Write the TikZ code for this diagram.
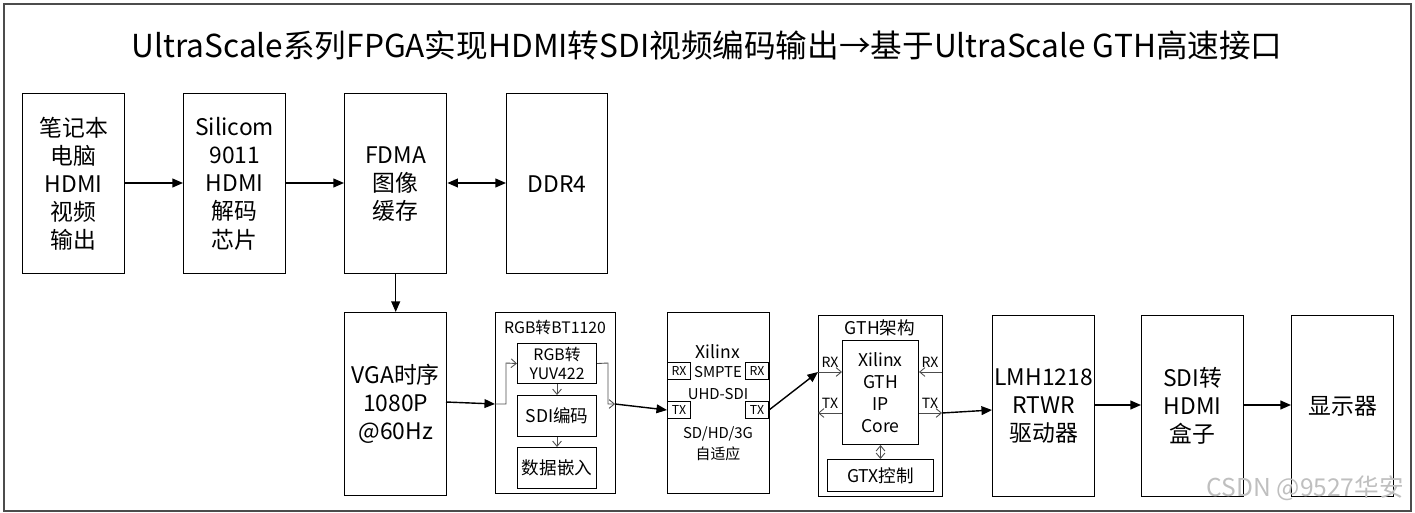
\documentclass[tikz,border=0pt]{standalone}
\usepackage{fontspec}
\setmainfont{Noto Sans CJK SC}
\usetikzlibrary{arrows.meta}
\begin{document}
\begin{tikzpicture}[x=0.02cm,y=-0.02cm,
  box/.style={draw,line width=0.8pt,align=center,font=\fontsize{13}{16}\selectfont,inner sep=0},
  sbox/.style={draw,line width=0.6pt,align=center,font=\fontsize{10}{11}\selectfont,inner sep=0},
  tag/.style={draw,line width=0.6pt,font=\fontsize{7}{8}\selectfont,inner sep=0,minimum width=0.46cm,minimum height=0.34cm},
  lbl/.style={font=\fontsize{8}{9}\selectfont,inner sep=0},
  arr/.style={-{Triangle[length=6pt,width=5pt]},line width=0.8pt},
  thin/.style={-{Straight Barb[length=3pt,width=5pt]},line width=0.5pt,draw=black!70}]
\useasboundingbox (0,0) rectangle (1415,513);
\draw[line width=0.8pt,black!70] (4,4) rectangle (1411,511);
\node[font=\fontsize{18}{20}\selectfont] (title) at (707,45) {UltraScale系列FPGA实现HDMI转SDI视频编码输出→基于UltraScale GTH高速接口};
\def\bx#1#2#3#4#5#6{\node[box,minimum width=#4*0.02cm,minimum height=#5*0.02cm,anchor=north west] (#1) at (#2,#3) {#6};}
\bx{b1}{22}{93}{102}{180}{笔记本\\电脑\\HDMI\\视频\\输出}
\bx{b2}{183}{93}{102}{180}{Silicom\\9011\\HDMI\\解码\\芯片}
\bx{b3}{344}{93}{102}{180}{FDMA\\图像\\缓存}
\bx{b4}{506}{93}{101}{180}{DDR4}
\bx{b5}{344}{312}{102}{183}{VGA时序\\1080P\\@60Hz}
\bx{b6}{495}{312}{120}{181}{}
\bx{b7}{667}{312}{102}{181}{}
\bx{b8}{818}{315}{124}{181}{}
\bx{b9}{992}{315}{102}{181}{LMH1218\\RTWR\\驱动器}
\bx{b10}{1141}{315}{102}{181}{SDI转\\HDMI\\盒子}
\bx{b11}{1291}{315}{102}{181}{显示器}
% RGB block
\node[lbl,font=\fontsize{9}{11}\selectfont] (t6) at (555,327) {RGB转BT1120};
\node[sbox,minimum width=1.58cm,minimum height=0.8cm,anchor=north west,font=\fontsize{9}{11}\selectfont] (r1) at (517,343) {RGB转\\YUV422};
\node[sbox,minimum width=1.58cm,minimum height=0.82cm,anchor=north west] (r2) at (517,395) {SDI编码};
\node[sbox,minimum width=1.58cm,minimum height=0.82cm,anchor=north west] (r3) at (517,447) {数据嵌入};
\draw[thin] (r1) -- (r2);
\draw[thin] (r2) -- (r3);
% SMPTE block
\node[font=\fontsize{10}{12}\selectfont] (x1) at (718,352) {Xilinx};
\node[font=\fontsize{8.5}{10}\selectfont,align=center] (x2) at (718,383) {SMPTE\\[2pt]UHD-SDI};
\node[font=\fontsize{8.5}{10}\selectfont,align=center] (x3) at (718,444) {SD/HD/3G\\[2pt]自适应};
\node[tag,anchor=north west] (rxl) at (667,362) {RX};
\node[tag,anchor=north east] (rxr) at (769,362) {RX};
\node[tag,anchor=north west] (txl) at (667,401) {TX};
\node[tag,anchor=north east] (txr) at (769,401) {TX};
% GTH block
\node[font=\fontsize{10}{12}\selectfont] (t8) at (880,328) {GTH架构};
\node[sbox,minimum width=1.52cm,minimum height=2.08cm,anchor=north west,font=\fontsize{10}{12.5}\selectfont] (core) at (842,340) {Xilinx\\GTH\\IP\\Core};
\node[sbox,minimum width=2.12cm,minimum height=0.64cm,anchor=north west] (gtx) at (827,459) {GTX控制};
\draw[thin,{Straight Barb[length=3pt,width=5pt]}-{Straight Barb[length=3pt,width=5pt]}] (core) -- (gtx);
\coordinate (lrx) at (818,372); \coordinate (ltx) at (818,413);
\coordinate (rrx) at (942,372); \coordinate (rtx) at (942,413);
\draw[thin] (lrx) -- (core.west|-lrx);
\draw[thin] (core.west|-ltx) -- (ltx);
\draw[thin] (rrx) -- (core.east|-rrx);
\draw[thin] (core.east|-rtx) -- (rtx);
\node[lbl,anchor=south] (l1) at (830,368) {RX};
\node[lbl,anchor=south] (l2) at (830,409) {TX};
\node[lbl,anchor=south] (l3) at (930,368) {RX};
\node[lbl,anchor=south] (l4) at (930,409) {TX};
% connectors
\draw[arr] (b1.east|-0,183) -- (b2.west|-0,183);
\draw[arr] (b2.east|-0,183) -- (b3.west|-0,183);
\draw[arr,{Triangle[length=6pt,width=5pt]}-{Triangle[length=6pt,width=5pt]}] (b3.east|-0,183) -- (b4.west|-0,183);
\draw[arr] (b3) -- (b5);
\coordinate (in6) at (495,404);
\draw[arr] (446,402) -- (in6);
\draw[thin] (in6) -- (506,404) -- (506,363) -- (r1.west);
\coordinate (o6) at (615,404);
\draw[thin] (r1.east) -- (608,363) -- (608,404) -- (o6);
\draw[arr] (o6) -- (txl.west);
\draw[arr] (txr.east) -- (lrx);
\draw[arr] (rtx) -- (b9.west|-0,410);
\draw[arr] (b9.east|-0,405) -- (b10.west|-0,405);
\draw[arr] (b10.east|-0,405) -- (b11.west|-0,405);
\node[text=black!25,font=\fontsize{14}{16}\selectfont,anchor=east] (wm) at (1410,488) {CSDN @9527华安};
\end{tikzpicture}
\end{document}
